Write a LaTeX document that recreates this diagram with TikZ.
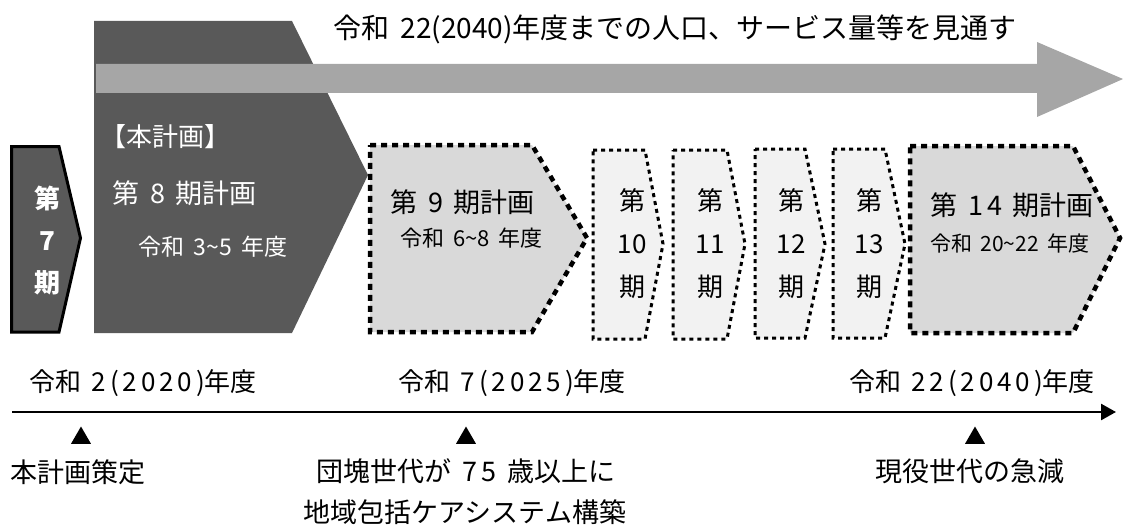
\documentclass[tikz,border=0pt]{standalone}
\usepackage{fontspec}
\setmainfont{Noto Sans CJK JP}[WordSpace=1.8]
\usetikzlibrary{arrows.meta,shapes.geometric}
\definecolor{planDark}{HTML}{595959}
\definecolor{bandGray}{HTML}{A6A6A6}
\definecolor{bigFill}{HTML}{D9D9D9}
\definecolor{smallFill}{HTML}{F2F2F2}
\newcommand\jpsz[1]{\fontsize{#1}{#1}\selectfont}
\newcommand\stackfnt{\fontsize{26}{43}\selectfont}
\newcommand\stackbfnt{\fontsize{26}{42}\selectfont\bfseries}
\newcommand\digs[1]{{\addfontfeatures{LetterSpace=15}#1}}
\tikzset{
  bigplan/.style={fill=bigFill, draw=black, line width=4.5pt, dash pattern=on 6pt off 5pt, line cap=butt},
  smallplan/.style={fill=smallFill, draw=black, line width=3pt, dash pattern=on 4pt off 4pt, line cap=butt},
  whitetxt/.style={text=white, inner sep=0pt},
  blacktxt/.style={text=black, inner sep=0pt},
  stack/.style={inner sep=0pt, align=center, font=\stackfnt},
  marker/.style={regular polygon, regular polygon sides=3, fill=black, minimum size=23pt, inner sep=0pt},
}
\begin{document}
\begin{tikzpicture}[x=1pt,y=-1pt]
\useasboundingbox (0,0) rectangle (1123,532);
% 8th plan (dark pentagon)
\fill[planDark] (94,21) -- (292,21) -- (368,175) -- (292,333) -- (94,333) -- cycle;
% long gray arrow
\fill[bandGray] (96,64) -- (1037,64) -- (1037,42) -- (1123,79) -- (1037,117) -- (1037,93) -- (96,93) -- cycle;
% 7th period
\filldraw[fill=planDark, draw=black, line width=3pt, line join=miter] (11.5,146.5) -- (59,146.5) -- (80.5,238) -- (59,332) -- (11.5,332) -- cycle;
% 9th plan
\path[bigplan] (370,145) -- (532,145) -- (587,238) -- (532,332) -- (370,332) -- cycle;
% 10-13
\path[smallplan] (593,150) -- (645,150) -- (663,244) -- (645,339) -- (593,339) -- cycle;
\path[smallplan] (673,150) -- (727,150) -- (745,244) -- (727,339) -- (673,339) -- cycle;
\path[smallplan] (755,149) -- (805,149) -- (825,244) -- (805,338) -- (755,338) -- cycle;
\path[smallplan] (833,149) -- (885,149) -- (905,244) -- (885,338) -- (833,338) -- cycle;
% 14th plan
\path[bigplan] (910,146) -- (1073,146) -- (1120,238) -- (1073,333) -- (910,333) -- cycle;

% top text
\node[blacktxt, font=\jpsz{28}] (top) at (675,29) {令和 22(2040)年度までの人口、サービス量等を見通す};

% 7th
\node[stack, text=white, font=\stackbfnt] (p7) at (47,241) {第\\7\\期};
% 8th
\node[whitetxt, anchor=west, font=\jpsz{26}] (p8a) at (100,137) {【本計画】};
\node[whitetxt, anchor=west, font=\jpsz{27}] (p8b) at (112,193) {第 \digs{8} 期計画};
\node[whitetxt, anchor=west, font=\jpsz{23}] (p8c) at (138,247) {令和 3\textasciitilde5 年度};
% 9th
\node[blacktxt, anchor=west, font=\jpsz{27}] (p9a) at (390,202) {第 9 期計画};
\node[blacktxt, anchor=west, font=\jpsz{22}] (p9b) at (400,238) {令和 6\textasciitilde8 年度};
% small
\node[stack] (p10) at (632,244) {第\\10\\期};
\node[stack] (p11) at (710,244) {第\\11\\期};
\node[stack] (p12) at (791,244) {第\\12\\期};
\node[stack] (p13) at (869,244) {第\\13\\期};
% 14th
\node[blacktxt, anchor=west, font=\jpsz{27}] (p14a) at (930,205) {第 \digs{14} 期計画};
\node[blacktxt, anchor=west, font=\jpsz{21}] (p14b) at (930,243) {令和 20\textasciitilde22 年度};

% timeline
\coordinate (axA) at (12,412);
\coordinate (axB) at (1116,412);
\draw[line width=2.6pt, -{Triangle[length=15pt,width=16pt]}] (axA) -- (axB);
\node[blacktxt, font=\jpsz{26}] (y2020) at (143,383) {令和 \digs{2(2020)}年度};
\node[blacktxt, font=\jpsz{26}] (y2025) at (512,383) {令和 \digs{7(2025)}年度};
\node[blacktxt, font=\jpsz{26}] (y2040) at (972,383) {令和 \digs{22(2040)}年度};

\node[marker] (m1) at (81,438) {};
\node[marker] (m2) at (466,438) {};
\node[marker] (m3) at (975,438) {};

\node[blacktxt, font=\jpsz{27}] (e1) at (78,472) {本計画策定};
\node[blacktxt, font=\jpsz{27}] (e2a) at (466,471) {団塊世代が \digs{75} 歳以上に};
\node[blacktxt, font=\jpsz{27}] (e2b) at (465,512) {地域包括ケアシステム構築};
\node[blacktxt, font=\jpsz{27}] (e3) at (970,471) {現役世代の急減};
\end{tikzpicture}
\end{document}
